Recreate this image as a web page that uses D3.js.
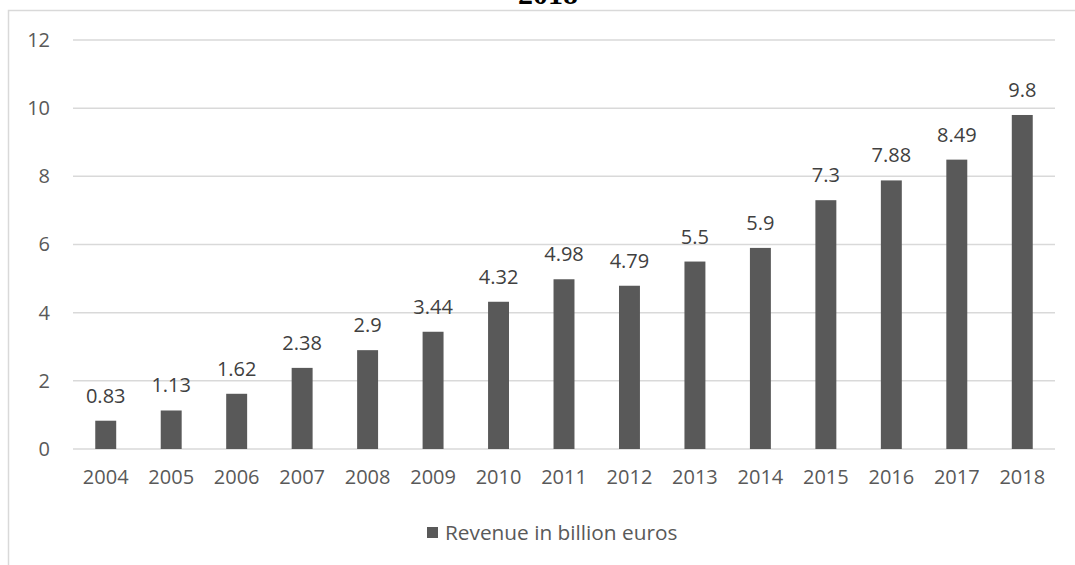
<!DOCTYPE html>
<html>
<head>
<meta charset="utf-8">
<script src="https://cdn.jsdelivr.net/npm/d3@7"></script>
<style>
  html, body { margin: 0; padding: 0; background: #fff; }
  svg { display: block; }
  text { font-family: "Open Sans", "Liberation Sans", sans-serif; }
</style>
</head>
<body>
<svg id="chart" width="1075" height="565"></svg>
<script>
// Revenue per year, in billion euros
const years = ["2004","2005","2006","2007","2008","2009","2010","2011","2012","2013","2014","2015","2016","2017","2018"];
const revenue = [0.83, 1.13, 1.62, 2.38, 2.9, 3.44, 4.32, 4.98, 4.79, 5.5, 5.9, 7.3, 7.88, 8.49, 9.8];
const yTicks = [0, 2, 4, 6, 8, 10, 12];
const seriesName = "Revenue in billion euros";
const titleText = "2018";

const W = 1075, H = 565;
const plot = { left: 73, right: 1055, top: 40, bottom: 449 };

const svg = d3.select("#chart");

// Chart frame (top and left edges)
svg.append("path")
  .attr("d", `M8.5,${H} V10.5 H${W}`)
  .attr("fill", "none")
  .attr("stroke", "#d9d9d9")
  .attr("stroke-width", 1.5);

// Title, mostly above the visible area
svg.append("text")
  .attr("x", 548)
  .attr("y", 4)
  .attr("text-anchor", "middle")
  .style("font-family", "'Liberation Serif', 'DejaVu Serif', serif")
  .style("font-weight", "bold")
  .style("font-size", "30px")
  .attr("fill", "#000")
  .text(titleText);

const x = d3.scaleBand()
  .domain(years)
  .range([plot.left, plot.right])
  .paddingInner(0.68)
  .paddingOuter(0.34);

const y = d3.scaleLinear()
  .domain([0, 12])
  .range([plot.bottom, plot.top]);

// Gridlines
svg.append("g")
  .selectAll("line")
  .data(yTicks)
  .join("line")
  .attr("x1", plot.left)
  .attr("x2", plot.right)
  .attr("y1", d => y(d))
  .attr("y2", d => y(d))
  .attr("stroke", "#d9d9d9")
  .attr("stroke-width", 1.5);

// Y axis labels
const yAxis = d3.axisLeft(y).tickValues(yTicks).tickSize(0).tickPadding(0).tickFormat(d3.format("d"));
svg.append("g")
  .attr("transform", `translate(50,0)`)
  .call(yAxis)
  .call(g => g.select(".domain").remove())
  .call(g => g.selectAll("text")
    .attr("fill", "#595959")
    .style("font-size", "20px")
    .style("font-family", "'Open Sans', sans-serif"));

// X axis labels
const xAxis = d3.axisBottom(x).tickSize(0).tickPadding(0);
svg.append("g")
  .attr("transform", `translate(0,${plot.bottom + 21})`)
  .call(xAxis)
  .call(g => g.select(".domain").remove())
  .call(g => g.selectAll("text")
    .attr("fill", "#595959")
    .style("font-size", "20px")
    .style("font-family", "'Open Sans', sans-serif"));

// Bars
svg.append("g")
  .selectAll("rect")
  .data(years.map((yr, i) => ({ yr, v: revenue[i] })))
  .join("rect")
  .attr("x", d => x(d.yr))
  .attr("width", x.bandwidth())
  .attr("y", d => y(d.v))
  .attr("height", d => y(0) - y(d.v))
  .attr("fill", "#595959");

// Value labels
svg.append("g")
  .selectAll("text")
  .data(years.map((yr, i) => ({ yr, v: revenue[i] })))
  .join("text")
  .attr("x", d => x(d.yr) + x.bandwidth() / 2)
  .attr("y", d => y(d.v) - 18)
  .attr("text-anchor", "middle")
  .attr("fill", "#404040")
  .style("font-size", "20px")
  .text(d => String(d.v));

// Legend
const legend = svg.append("g").attr("transform", "translate(427,527)");
legend.append("rect")
  .attr("width", 11).attr("height", 11)
  .attr("fill", "#595959");
legend.append("text")
  .attr("x", 18)
  .attr("y", 6)
  .attr("dy", "0.35em")
  .attr("fill", "#595959")
  .style("font-size", "20.8px")
  .text(seriesName);
</script>
</body>
</html>
